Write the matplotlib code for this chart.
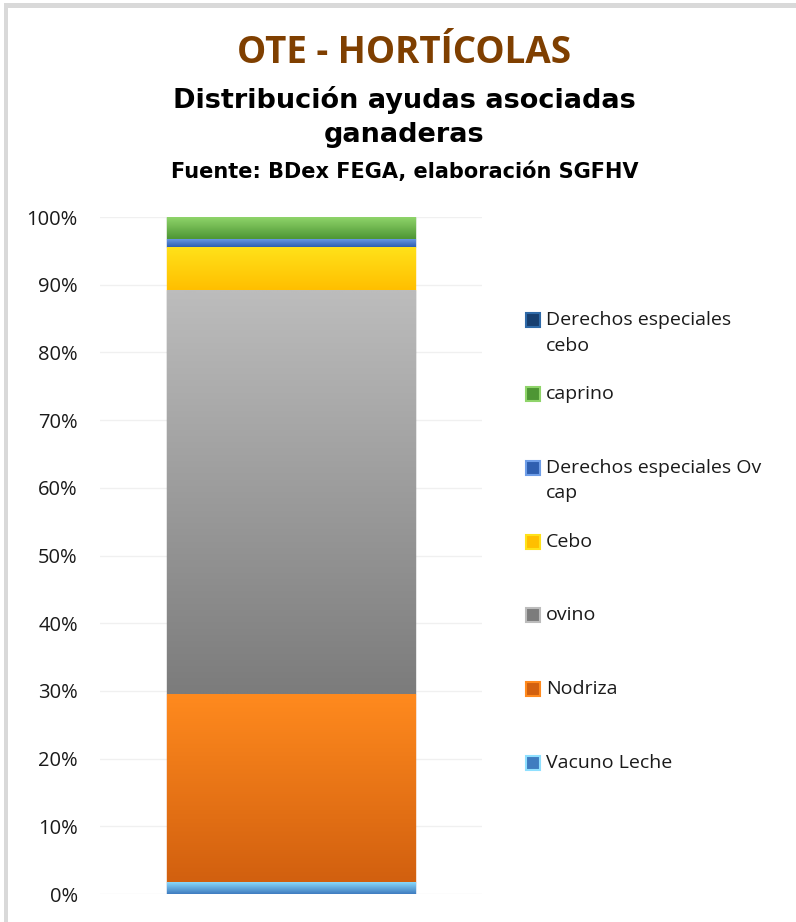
import matplotlib.pyplot as plt
import matplotlib.colors as mcolors
from matplotlib.patches import Rectangle
import numpy as np

# stacked from bottom to top
categories = ['Vacuno Leche', 'Nodriza', 'ovino', 'Cebo',
              'Derechos especiales Ov cap', 'caprino', 'Derechos especiales cebo']
legend_labels = ['Vacuno Leche', 'Nodriza', 'ovino', 'Cebo',
                 'Derechos especiales Ov\ncap', 'caprino', 'Derechos especiales\ncebo']
values = [1.8, 27.8, 59.6, 6.4, 1.2, 3.2, 0.0]
# (top colour, bottom colour) for the shaded look
colors = [('#8fe0ff', '#3f7cc0'),
          ('#ff8a1e', '#d2600f'),
          ('#bcbcbc', '#7c7c7c'),
          ('#ffe21a', '#ffbf00'),
          ('#6f9ee8', '#2f5fb0'),
          ('#8fd46a', '#4e9634'),
          ('#2f6aa8', '#173f70')]
yticks = [0, 10, 20, 30, 40, 50, 60, 70, 80, 90, 100]
ytick_labels = ['%d%%' % t for t in yticks]

plt.rcParams['font.family'] = ['Open Sans', 'DejaVu Sans']

W, H = 796, 922
fig = plt.figure(figsize=(W / 100, H / 100), dpi=100)
ax = fig.add_axes([100 / W, 1 - 894 / H, 382 / W, 677 / H])

bottom = 0
for cat, val, (ctop, cbot) in zip(categories, values, colors):
    bars = ax.bar(0, val, width=0.65, bottom=bottom, color=cbot,
                  edgecolor=cbot, linewidth=1, zorder=2)
    for patch in bars:
        if val <= 0:
            continue
        x0, y0 = patch.get_x(), patch.get_y()
        x1, y1 = x0 + patch.get_width(), y0 + patch.get_height()
        c1 = np.array(mcolors.to_rgb(ctop))
        c2 = np.array(mcolors.to_rgb(cbot))
        t = np.linspace(0, 1, 64)[:, None]
        grad = c1 * (1 - t) + c2 * t
        img = np.repeat(grad[:, None, :], 2, axis=1)
        # row 0 (top colour) goes to the top of the segment
        im = ax.imshow(img, extent=(x0, x1, y0, y1), origin='upper',
                       aspect='auto', zorder=3, interpolation='bilinear')
        im.set_clip_path(patch)
    bottom += val

ax.set_xlim(-0.5, 0.5)
ax.set_ylim(0, 100)
ax.set_yticks(yticks)
ax.set_yticklabels(ytick_labels, fontsize=14.5, color='#1a1a1a')
ax.set_xticks([])
ax.tick_params(axis='y', length=0, pad=16)
ax.grid(axis='y', color='#f0f0f0', linewidth=1, zorder=0)
ax.set_axisbelow(True)
for s in ax.spines.values():
    s.set_visible(False)

# titles
fig.text(0.508, 1 - 53 / H, 'OTE - HORTÍCOLAS', ha='center', va='center',
         fontsize=26.5, fontweight='bold', color='#7f3f00')
fig.text(0.508, 1 - 100 / H, 'Distribución ayudas asociadas', ha='center', va='center',
         fontsize=19.5, fontweight='bold', family='DejaVu Sans')
fig.text(0.508, 1 - 135 / H, 'ganaderas', ha='center', va='center',
         fontsize=19.5, fontweight='bold', family='DejaVu Sans')
fig.text(0.508, 1 - 172 / H, 'Fuente: BDex FEGA, elaboración SGFHV', ha='center',
         va='center', fontsize=15, fontweight='bold', family='DejaVu Sans')

# legend, one slot per series, first text line level with the marker
for i, (lab, (ctop, cbot)) in enumerate(zip(legend_labels, colors)):
    yc = 763 - 73.8 * i
    fig.patches.append(Rectangle((526 / W, 1 - (yc + 7) / H), 14 / W, 14 / H,
                                 transform=fig.transFigure, facecolor=cbot,
                                 edgecolor=ctop, linewidth=1.5))
    fig.text(546 / W, 1 - (yc - 9) / H, lab, ha='left', va='top',
             fontsize=14, color='#1a1a1a', linespacing=1.55)

# frame of the chart area
fig.patches.append(Rectangle((4 / W, 1 - 8 / H), 1, 5 / H, transform=fig.transFigure,
                             facecolor='#d9d9d9', edgecolor='none'))
fig.patches.append(Rectangle((4 / W, 0), 4 / W, 1 - 3 / H, transform=fig.transFigure,
                             facecolor='#d9d9d9', edgecolor='none'))

fig.savefig('out.png', dpi=100)
plt.close(fig)
